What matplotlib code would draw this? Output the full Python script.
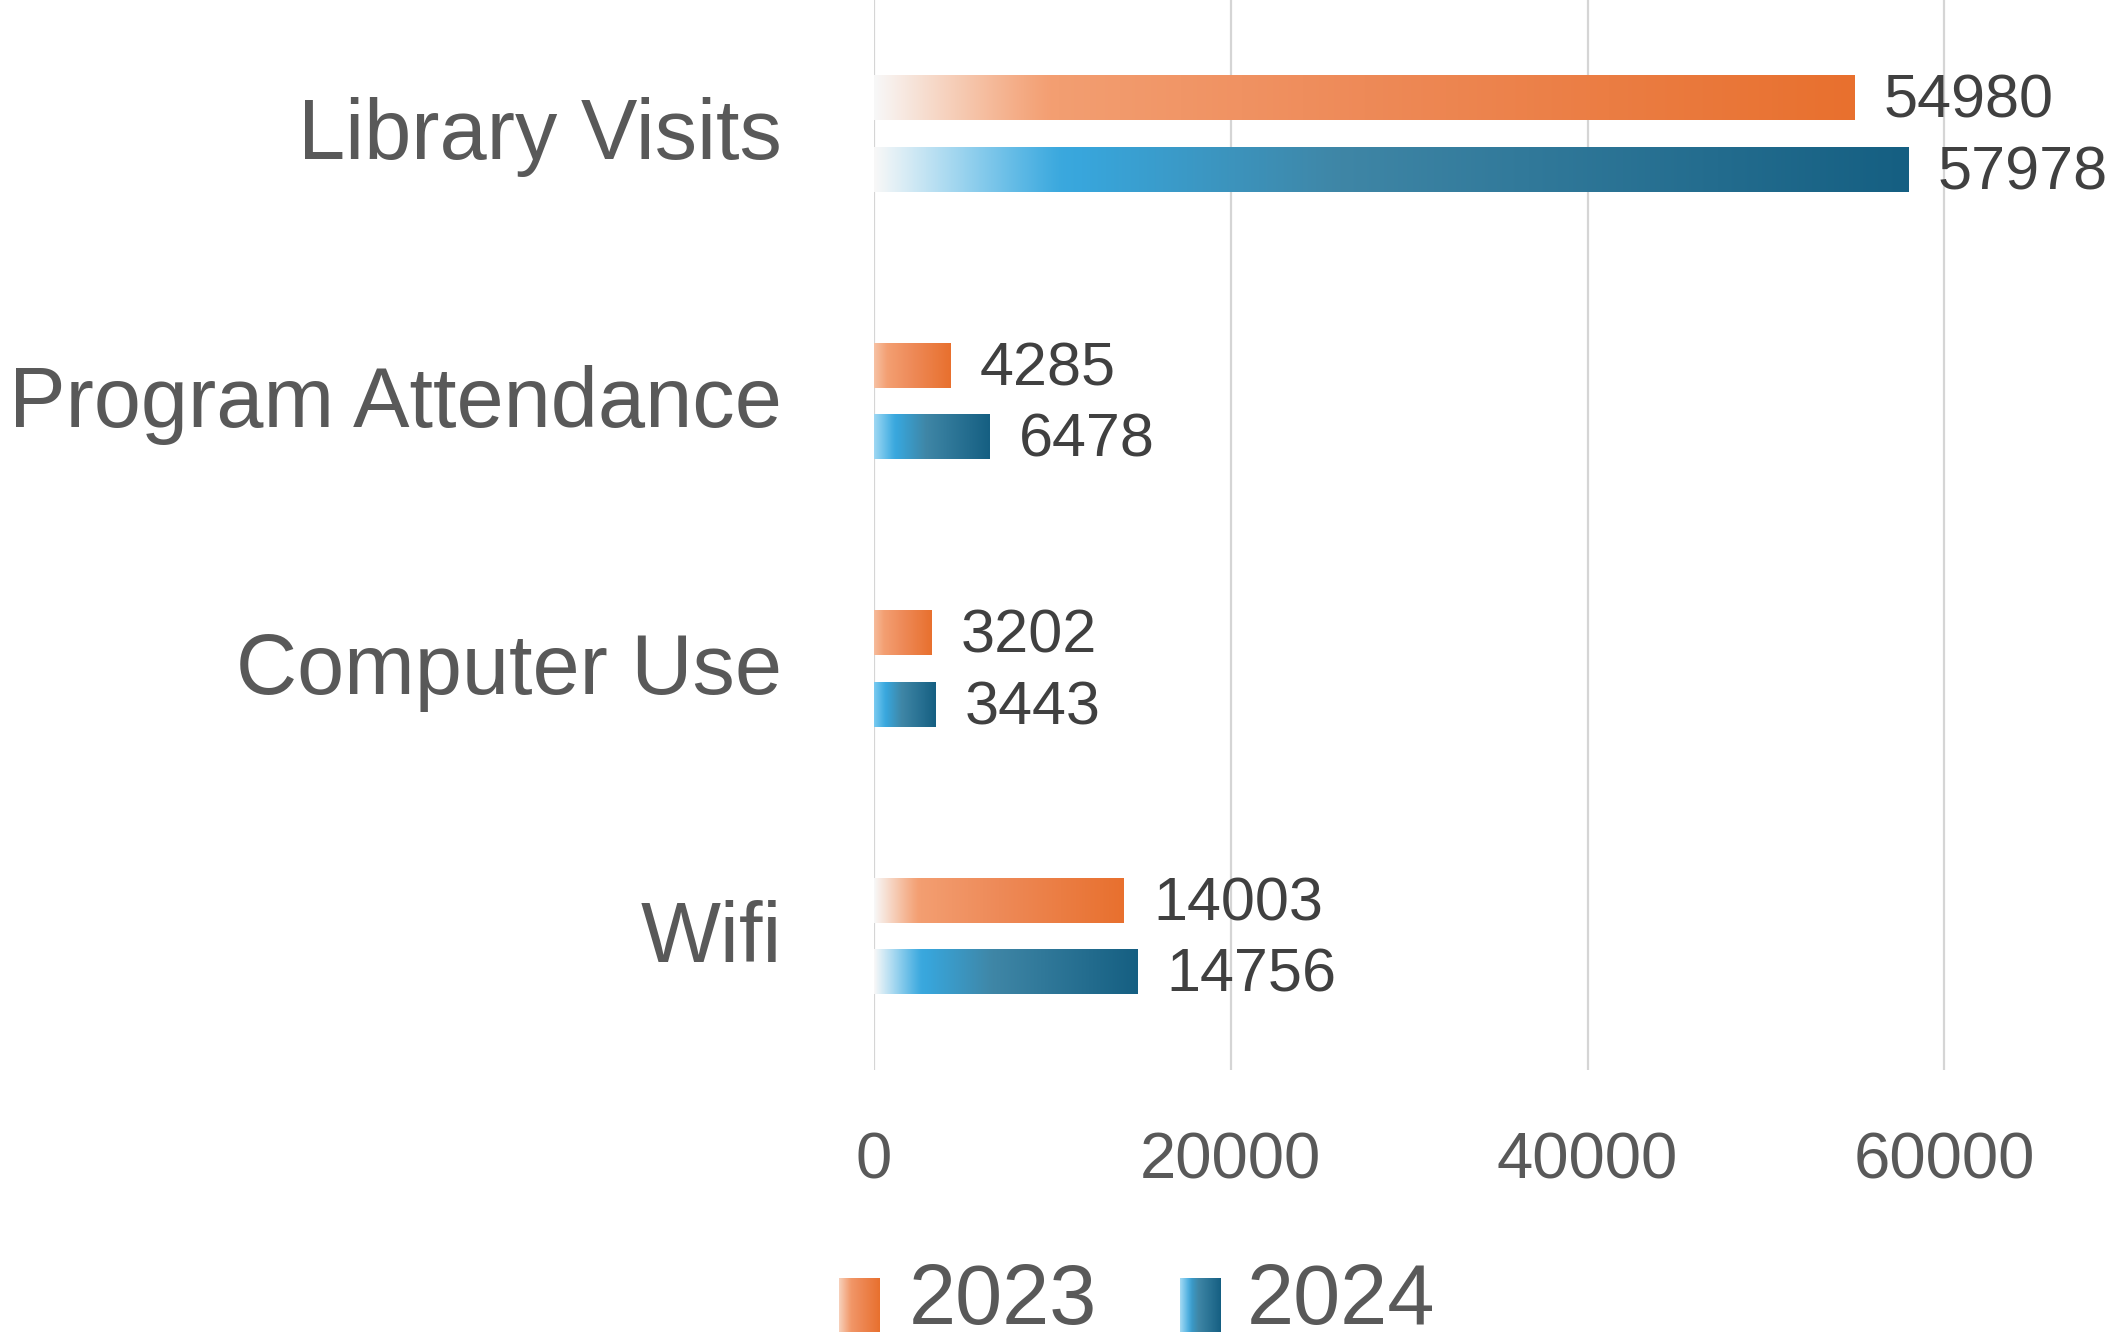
import numpy as np
import matplotlib
matplotlib.use("Agg")
import matplotlib.pyplot as plt
import matplotlib.transforms as mtransforms
from matplotlib.colors import to_rgb

plt.rcParams['font.family'] = ['Liberation Sans', 'DejaVu Sans']

categories = ["Library Visits", "Program Attendance", "Computer Use", "Wifi"]
series_names = ["2023", "2024"]
values_2023 = [54980, 4285, 3202, 14003]
values_2024 = [57978, 6478, 3443, 14756]
xticks = [0, 20000, 40000, 60000]

orange_stops = [(0.0, "#F6AA80"), (0.5, "#EE8A58"), (1.0, "#E8702E")]
blue_stops = [(0.0, "#52BCEE"), (0.2, "#38A6DC"), (0.45, "#3F86A6"), (1.0, "#155F82")]


def gradient(stops, n=256, fade=1.0, fade_width=0.18):
    t = np.linspace(0, 1, n)
    pos = [s[0] for s in stops]
    cols = np.array([to_rgb(s[1]) for s in stops])
    rgb = np.stack([np.interp(t, pos, cols[:, k]) for k in range(3)], axis=1)
    w = fade * np.clip(1 - t / fade_width, 0, 1) ** 1.2
    rgb = rgb * (1 - w[:, None]) + w[:, None] * 0.97
    return rgb[None, :, :]


W, H = 2121, 1340
fig = plt.figure(figsize=(W / 100, H / 100), dpi=100)
ax_left, ax_right = 874 / W, 1980 / W
ax = fig.add_axes([ax_left, 1 - 1070 / H, ax_right - ax_left, 1070 / H])

y = np.arange(len(categories))
off = 0.134
bh = 0.167

for vals, stops, dy in [(values_2023, orange_stops, -off), (values_2024, blue_stops, off)]:
    for i, v in enumerate(vals):
        fade = min(1.0, v / 14000)
        img = gradient(stops, fade=fade)
        ax.imshow(img, extent=(0, v, y[i] + dy + bh / 2, y[i] + dy - bh / 2),
                  aspect='auto', interpolation='bilinear', zorder=3)
        ax.annotate(f"{v}", xy=(v, y[i] + dy), xytext=(21, -3), textcoords='offset points',
                    ha='left', va='center', fontsize=44, color='#404040',
                    annotation_clip=False, zorder=4)

ax.set_xlim(0, 62000)
ax.set_ylim(len(categories) - 0.5, -0.5)
ax.set_xticks(xticks)
ax.set_xticklabels([str(t) for t in xticks])
ax.set_yticks(y)
ax.set_yticklabels(categories)
ax.tick_params(axis='y', length=0, pad=66, labelsize=61, labelcolor='#595959')
ax.tick_params(axis='x', length=0, pad=44, labelsize=47, labelcolor='#595959')
shift = mtransforms.ScaledTranslation(0, 4 / 72, fig.dpi_scale_trans)
for lbl in ax.get_yticklabels():
    lbl.set_transform(lbl.get_transform() + shift)
ax.grid(axis='x', color='#D5D5D5', linewidth=1.6, zorder=0)
ax.set_axisbelow(True)
for s in ax.spines.values():
    s.set_visible(False)

# legend (manual, with gradient markers)
leg = [("2023", orange_stops, 839, 909), ("2024", blue_stops, 1180, 1247)]
for name, stops, mx, tx in leg:
    max_ = fig.add_axes([mx / W, 1 - 1332 / H, 40 / W, 54 / H])
    max_.imshow(gradient(stops, fade=0.5, fade_width=0.3), aspect='auto', interpolation='bilinear')
    max_.axis('off')
    fig.text(tx / W, 1 - 1302 / H, name, fontsize=61, color='#595959', ha='left', va='center')

fig.savefig("out.png", dpi=100, facecolor='white')
